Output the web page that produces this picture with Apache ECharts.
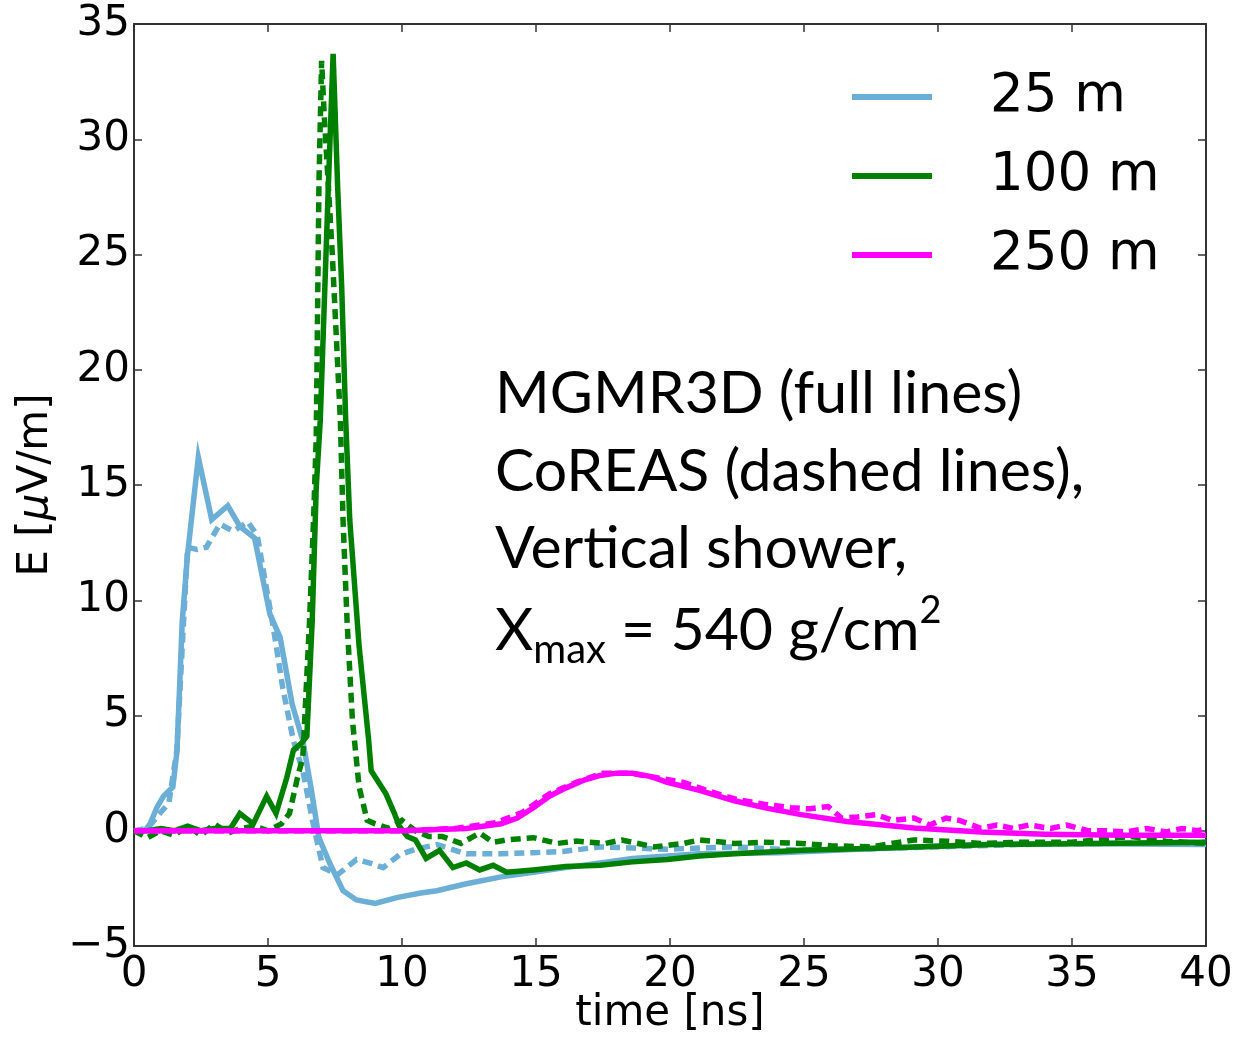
<!DOCTYPE html>
<html>
<head>
<meta charset="utf-8">
<script src="https://cdn.jsdelivr.net/npm/echarts@6/dist/echarts.min.js"></script>
<style>
html,body{margin:0;padding:0;background:#fff;}
#chart{width:1237px;height:1038px;}
</style>
</head>
<body>
<div id="chart"></div>
<script>
// ---- data (time in ns, E in µV/m) ----
const legendNames = ['25 m', '100 m', '250 m'];
const xTicks = [0, 5, 10, 15, 20, 25, 30, 35, 40];
const yTicks = [-5, 0, 5, 10, 15, 20, 25, 30, 35];

const t25Mgmr = [0,0.4,0.6,0.85,1.1,1.45,1.6,1.7,1.8,2.0,2.4,2.9,3.5,3.95,4.5,5.07,5.45,5.9,6.3,6.6,6.9,7.3,7.8,8.3,9.0,9.8,10.7,11.3,12.4,13.7,14.9,16.1,17.4,18.6,21.1,24.1,27,31.6,35,39.7,40];
const e25Mgmr = [0,0,0.3,1.0,1.5,1.9,3.4,6.2,9.1,12,16.2,13.5,14.1,13.2,12.7,9.4,8.4,5.5,3.9,1.9,-0.3,-1.4,-2.6,-3.0,-3.15,-2.9,-2.7,-2.6,-2.3,-2.0,-1.8,-1.6,-1.4,-1.2,-1.0,-0.95,-0.8,-0.6,-0.55,-0.6,-0.6];

const t25Coreas = [0,0.5,1.0,1.3,1.6,1.8,2.0,2.35,2.7,3.2,3.7,4.25,4.6,5.2,5.55,5.95,6.3,6.65,7.05,7.6,8.3,8.8,9.3,9.9,10.5,11.3,12.4,13.7,14.9,16.0,17.4,18.6,19.9,21.1,22.4,24.9,27,30,33,36,40];
const e25Coreas = [0,0.1,0.8,1.2,3.5,8,12.3,12.2,12.3,13.3,13.0,13.4,12.8,8.8,6.2,3.9,2.6,0.5,-1.6,-1.9,-1.25,-1.4,-1.6,-1.05,-0.8,-0.6,-1.0,-1.0,-0.95,-0.9,-0.7,-0.75,-0.8,-0.75,-0.7,-0.85,-0.8,-0.7,-0.6,-0.55,-0.5];

const t100Mgmr = [0,0.5,1,1.5,2,2.5,3,3.6,3.95,4.45,4.95,5.3,5.7,5.95,6.25,6.45,6.65,6.8,6.95,7.25,7.43,7.6,7.75,7.9,8.05,8.4,8.75,8.85,9.4,9.7,9.9,10.2,10.5,10.9,11.4,11.9,12.4,12.9,13.4,13.9,14.9,16.1,17.4,18.6,19.9,21.1,22.4,24.9,28,32,36,40];
const e100Mgmr = [0,0,0.1,0,0.2,0,0.1,0.1,0.75,0.3,1.5,0.75,2.3,3.5,3.8,4.1,9.1,14.9,17.8,27.9,33.7,27.9,23.6,17.8,13.5,8.0,4.0,2.6,1.6,0.8,0.2,-0.25,-0.4,-1.2,-0.85,-1.6,-1.4,-1.7,-1.5,-1.8,-1.7,-1.55,-1.5,-1.35,-1.25,-1.1,-1.0,-0.85,-0.75,-0.6,-0.55,-0.5];

const t100Coreas = [0,0.5,1,1.5,2,2.5,3,3.5,4,4.5,5,5.5,5.8,6.1,6.3,6.55,6.7,6.8,6.9,7.0,7.1,7.4,7.7,7.8,7.95,8.15,8.4,8.7,9.0,9.5,10.0,10.5,11.0,11.5,12.2,12.9,13.4,13.9,14.9,15.8,16.5,17.6,18.2,19.4,20.5,21.1,22.4,23.5,24.9,26,27.5,29.1,30.3,31.6,33,35,37.2,38.5,40];
const e100Coreas = [0,-0.3,0,-0.2,0.2,-0.2,0.3,-0.1,0.1,0.2,0,0.3,0.75,2.3,3.2,9.1,13.5,17.1,28,33.4,31,25,17.8,13.5,9.1,4.8,1.9,0.45,0.3,0.1,0.45,0,-0.25,-0.25,-0.55,-0.1,-0.5,-0.4,-0.3,-0.55,-0.45,-0.55,-0.4,-0.7,-0.55,-0.4,-0.55,-0.5,-0.55,-0.65,-0.7,-0.4,-0.45,-0.55,-0.5,-0.5,-0.25,-0.45,-0.55];

const t250Mgmr = [0,5,10,12.4,13.7,14.3,14.9,15.5,16.1,16.8,17.4,18.0,18.6,19.3,19.9,21.1,22.4,23.6,24.9,26.6,29.1,31.6,34,37,40];
const e250Mgmr = [0,0,0,0.1,0.3,0.55,1.0,1.5,1.85,2.2,2.4,2.5,2.5,2.35,2.1,1.75,1.3,0.98,0.7,0.4,0.12,-0.05,-0.15,-0.2,-0.2];

const t250Coreas = [0,5,10,12,13.5,14.5,15.5,16.5,17.5,18.5,19.5,20.5,21.5,22.5,23.5,24.5,25.2,25.9,26.4,27.0,27.7,28.3,29.1,29.7,30.3,30.8,31.6,32.2,32.8,33.4,34.2,34.8,35.6,36.3,37.0,37.8,38.5,39.1,39.7,40];
const e250Coreas = [0,0,0,0.1,0.35,0.8,1.6,2.1,2.5,2.5,2.3,2.1,1.7,1.35,1.15,1.0,0.95,1.05,0.55,0.6,0.7,0.45,0.55,0.25,0.55,0.45,0.1,0.25,0.1,0.25,0.1,0.25,0.0,0.0,-0.05,0.1,-0.05,0.1,0.0,0.1];

// ---- build ----
const colors = { '25 m': '#6baed6', '100 m': '#008000', '250 m': '#ff00ff' };
function pairs(t, v) { return t.map((x, i) => [x, v[i]]); }
function line(name, t, v, color, dashed) {
  return {
    name: name, type: 'line', data: pairs(t, v),
    xAxisIndex: 0, yAxisIndex: 0,
    showSymbol: false, symbol: 'none', smooth: false, animation: false,
    lineStyle: { color: color, width: 5.5, type: dashed ? [10, 6] : 'solid', cap: 'butt', join: 'miter' },
    itemStyle: { color: color },
    silent: true
  };
}
const series = [
  line('25 m', t25Mgmr, e25Mgmr, colors['25 m'], false),
  line('25 m CoREAS', t25Coreas, e25Coreas, colors['25 m'], true),
  line('100 m', t100Mgmr, e100Mgmr, colors['100 m'], false),
  line('100 m CoREAS', t100Coreas, e100Coreas, colors['100 m'], true),
  line('250 m', t250Mgmr, e250Mgmr, colors['250 m'], false),
  line('250 m CoREAS', t250Coreas, e250Coreas, colors['250 m'], true)
];

const tickFont = 'DejaVu Sans';
const annFont = 'Lato';
const annSize = 59;
const axisCommon = {
  axisLine: { show: true, onZero: false, lineStyle: { color: '#333', width: 2 } },
  axisTick: { show: true, inside: true, length: 8, lineStyle: { color: '#333', width: 1.5 } },
  splitLine: { show: false }
};

const chart = echarts.init(document.getElementById('chart'), null, { renderer: 'canvas' });
chart.setOption({
  backgroundColor: '#fff',
  animation: false,
  grid: { left: 134, right: 31, top: 24, bottom: 92, containLabel: false, outerBoundsMode: 'none' },
  xAxis: [
    Object.assign({
      type: 'value', position: 'bottom', min: xTicks[0], max: xTicks[xTicks.length - 1], interval: 5,
      name: 'time [ns]', nameLocation: 'middle', nameGap: 47, nameMoveOverlap: false,
      nameTextStyle: { fontFamily: tickFont, fontSize: 42, color: '#000' },
      axisLabel: { fontFamily: tickFont, fontSize: 42, color: '#000', margin: 8 }
    }, axisCommon),
    Object.assign({
      type: 'value', position: 'top', min: xTicks[0], max: xTicks[xTicks.length - 1], interval: 5,
      axisLabel: { show: false }
    }, axisCommon)
  ],
  yAxis: [
    Object.assign({
      type: 'value', position: 'left', min: yTicks[0], max: yTicks[yTicks.length - 1], interval: 5,
      name: 'E [{i|μ}V/m]', nameLocation: 'middle', nameGap: 76, nameRotate: 90,
      nameTextStyle: { fontFamily: tickFont, fontSize: 42, color: '#000',
        rich: { i: { fontFamily: tickFont, fontSize: 42, fontStyle: 'italic', color: '#000' } } },
      axisLabel: { fontFamily: tickFont, fontSize: 42, color: '#000', margin: 4,
        formatter: v => String(v).replace('-', '\u2212') }
    }, axisCommon),
    Object.assign({
      type: 'value', position: 'right', min: yTicks[0], max: yTicks[yTicks.length - 1], interval: 5,
      axisLabel: { show: false }
    }, axisCommon)
  ],
  legend: {
    data: legendNames.map(n => ({ name: n, icon: 'rect' })),
    orient: 'vertical', left: 852, top: 65, padding: 0,
    itemWidth: 80, itemHeight: 6, itemGap: 15,
    textStyle: { fontFamily: tickFont, fontSize: 53, color: '#000', lineHeight: 60, padding: [4, 0, 0, 53] },
    selectedMode: false
  },
  graphic: [
    { type: 'text', left: 495, top: 364, silent: true,
      style: { text: 'MGMR3D (full lines)', fontFamily: annFont, fontSize: annSize, fill: '#000' } },
    { type: 'text', left: 495, top: 442, silent: true,
      style: { text: 'CoREAS (dashed lines),', fontFamily: annFont, fontSize: annSize, fill: '#000' } },
    { type: 'text', left: 495, top: 519, silent: true,
      style: { text: 'Vertical shower,', fontFamily: annFont, fontSize: annSize, fill: '#000' } },
    { type: 'text', left: 495, top: 592, silent: true,
      style: {
        text: '{m|X}{s|max}{m| = 540 g/cm}{p|2}',
        rich: {
          m: { fontFamily: annFont, fontSize: annSize, lineHeight: 78, verticalAlign: 'middle', fill: '#000' },
          s: { fontFamily: annFont, fontSize: 40, lineHeight: 40, verticalAlign: 'bottom', fill: '#000' },
          p: { fontFamily: annFont, fontSize: 38, lineHeight: 56, verticalAlign: 'top', fill: '#000' }
        }
      } }
  ],
  series: series
});
</script>
</body>
</html>
